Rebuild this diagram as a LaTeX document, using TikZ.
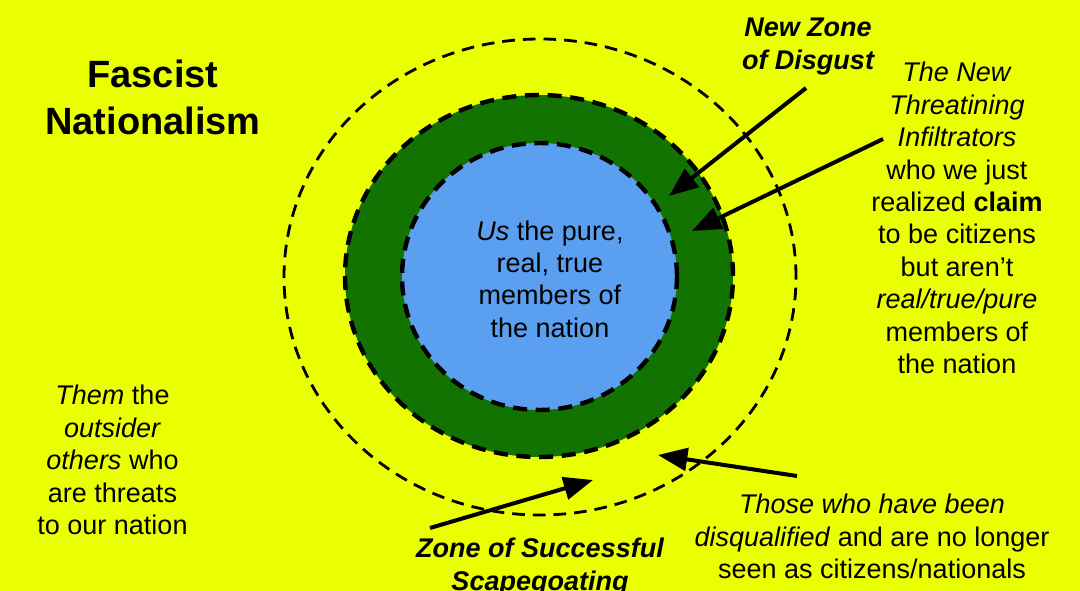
\documentclass[tikz,border=0pt]{standalone}
\usepackage{fontspec}
\setmainfont{Liberation Sans}
\usetikzlibrary{arrows.meta}
\definecolor{bgyellow}{RGB}{234,255,0}
\definecolor{zonegreen}{RGB}{19,115,0}
\definecolor{usblue}{RGB}{91,160,240}
\tikzset{
  txt/.style={align=center,inner sep=0pt,font=\fontsize{20.25}{24.3}\selectfont},
  titletxt/.style={align=center,inner sep=0pt,font=\fontsize{28.5}{35.2}\selectfont\bfseries},
  outerdash/.style={draw=black,line width=2.1pt,dash pattern=on 9.5pt off 6pt},
  innerdash/.style={draw=black,line width=3.3pt,dash pattern=on 10.5pt off 6.5pt},
  pointer/.style={line width=3pt,-{Triangle[length=22pt,width=17pt]}}
}
\begin{document}
\begin{tikzpicture}[x=0.75pt,y=-0.75pt]
\useasboundingbox (0,0) rectangle (1080,591);
\fill[bgyellow] (0,0) rectangle (1080,591);
% zones
\fill[zonegreen] (539,276) ellipse [x radius=145.5pt, y radius=135.75pt];
\fill[usblue] (539.5,276.5) ellipse [x radius=103.1pt, y radius=100.1pt];
\draw[outerdash] (540,277) ellipse [x radius=192pt, y radius=178.5pt];
\draw[innerdash] (539,276) ellipse [x radius=145.5pt, y radius=135.75pt];
\draw[innerdash] (539.5,276.5) ellipse [x radius=103.1pt, y radius=100.1pt];
% texts
\node[titletxt] (title) at (153,97) {Fascist\\Nationalism};
\node[txt] (them) at (112.5,460) {\textit{Them} the\\\textit{outsider}\\\textit{others} who\\are threats\\to our nation};
\node[txt] (us) at (550,279) {\textit{Us} the pure,\\real, true\\members of\\the nation};
\node[txt] (infil) at (957,218) {\textit{The New}\\\textit{Threatining}\\\textit{Infiltrators}\\who we just\\realized \textbf{claim}\\to be citizens\\but aren’t\\\textit{real/true/pure}\\members of\\the nation};
\node[txt,font=\fontsize{20.25}{24.3}\selectfont\bfseries\itshape] (disgust) at (808,46.5) {New Zone\\of Disgust};
\node[txt,font=\fontsize{20.25}{24.3}\selectfont\bfseries\itshape] (scape) at (540,567) {Zone of Successful\\Scapegoating};
\node[txt] (dq) at (872,536.5) {\textit{Those who have been}\\\textit{disqualified} and are no longer\\seen as citizens/nationals};
% arrows
\coordinate (a1s) at (806,88);  \coordinate (a1e) at (669,196);
\coordinate (a2s) at (883,139); \coordinate (a2e) at (692,231);
\coordinate (a3s) at (430,528); \coordinate (a3e) at (593,480);
\coordinate (a4s) at (797,476); \coordinate (a4e) at (658,455);
\draw[pointer] (a1s) -- (a1e);
\draw[pointer] (a2s) -- (a2e);
\draw[pointer] (a3s) -- (a3e);
\draw[pointer] (a4s) -- (a4e);
\end{tikzpicture}
\end{document}
